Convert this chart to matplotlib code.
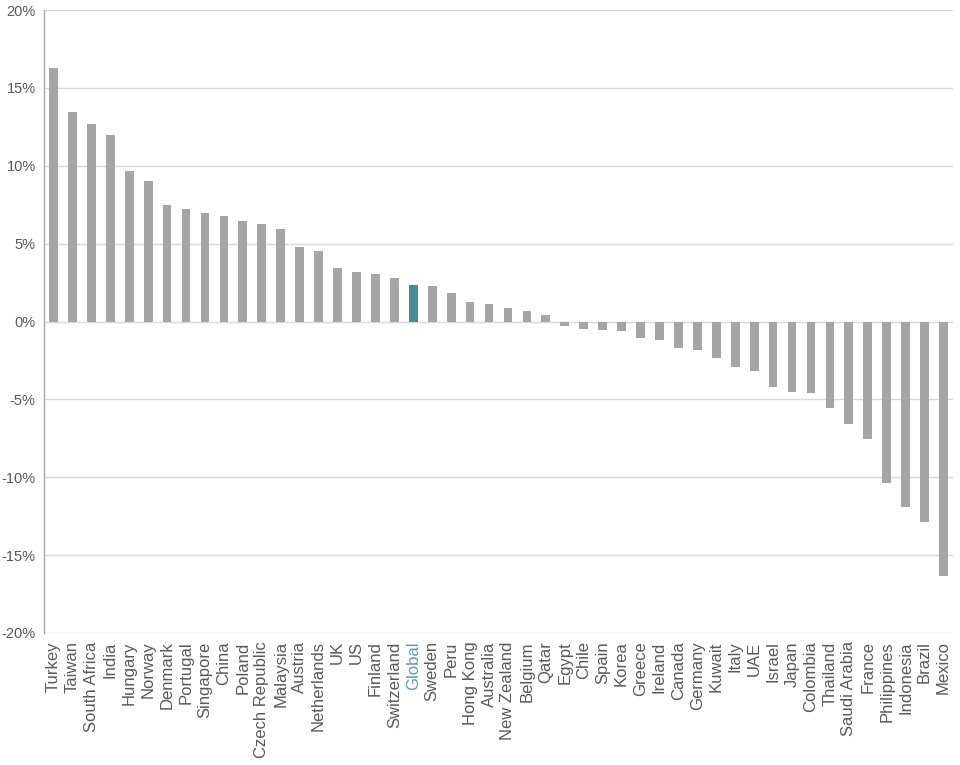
import matplotlib
matplotlib.use('Agg')
import matplotlib.pyplot as plt
from matplotlib.ticker import FuncFormatter

# Data
countries = ['Turkey', 'Taiwan', 'South Africa', 'India', 'Hungary', 'Norway', 'Denmark',
             'Portugal', 'Singapore', 'China', 'Poland', 'Czech Republic', 'Malaysia',
             'Austria', 'Netherlands', 'UK', 'US', 'Finland', 'Switzerland', 'Global',
             'Sweden', 'Peru', 'Hong Kong', 'Australia', 'New Zealand', 'Belgium', 'Qatar',
             'Egypt', 'Chile', 'Spain', 'Korea', 'Greece', 'Ireland', 'Canada', 'Germany',
             'Kuwait', 'Italy', 'UAE', 'Israel', 'Japan', 'Colombia', 'Thailand',
             'Saudi Arabia', 'France', 'Philippines', 'Indonesia', 'Brazil', 'Mexico']
values = [16.3, 13.45, 12.65, 12.0, 9.65, 9.0, 7.5, 7.2, 6.97, 6.77, 6.43, 6.24, 5.94,
          4.76, 4.53, 3.44, 3.21, 3.06, 2.82, 2.35, 2.26, 1.84, 1.22, 1.13, 0.88, 0.69,
          0.41, -0.28, -0.49, -0.53, -0.64, -1.05, -1.17, -1.73, -1.86, -2.33, -2.91,
          -3.16, -4.19, -4.55, -4.59, -5.56, -6.6, -7.54, -10.4, -11.9, -12.9, -16.35]
highlight = 'Global'
y_ticks = [-20, -15, -10, -5, 0, 5, 10, 15, 20]

GREY = '#a5a5a5'
TEAL = '#4a8a94'
TEXT = '#595959'

plt.rcParams['font.family'] = ['Liberation Sans', 'DejaVu Sans']

fig = plt.figure(figsize=(9.6, 7.65), dpi=100)
ax = fig.add_axes([44 / 960, 1 - 633 / 765, 909 / 960, 623 / 765])

colors = [TEAL if c == highlight else GREY for c in countries]
x = range(len(countries))
ax.bar(x, values, width=0.46, color=colors, zorder=3)

ax.set_ylim(-20, 20)
ax.set_xlim(-0.5, len(countries) - 0.5)
ax.set_yticks(y_ticks)
ax.yaxis.set_major_formatter(FuncFormatter(lambda v, p: f'{v:.0f}%'))
ax.grid(axis='y', color='#d9d9d9', linewidth=1, zorder=0)
ax.tick_params(axis='y', length=0, labelsize=10.5, labelcolor=TEXT, pad=6)
ax.tick_params(axis='x', length=0, labelsize=12, labelcolor=TEXT, pad=6)

ax.set_xticks(list(x))
ax.set_xticklabels(countries, rotation=90)
for lbl in ax.get_xticklabels():
    if lbl.get_text() == highlight:
        lbl.set_color('#5a9ea7')

for side in ['top', 'right', 'bottom']:
    ax.spines[side].set_visible(False)
ax.spines['left'].set_color('#a6a6a6')
ax.spines['left'].set_linewidth(1)

fig.savefig('out.png', dpi=100)
